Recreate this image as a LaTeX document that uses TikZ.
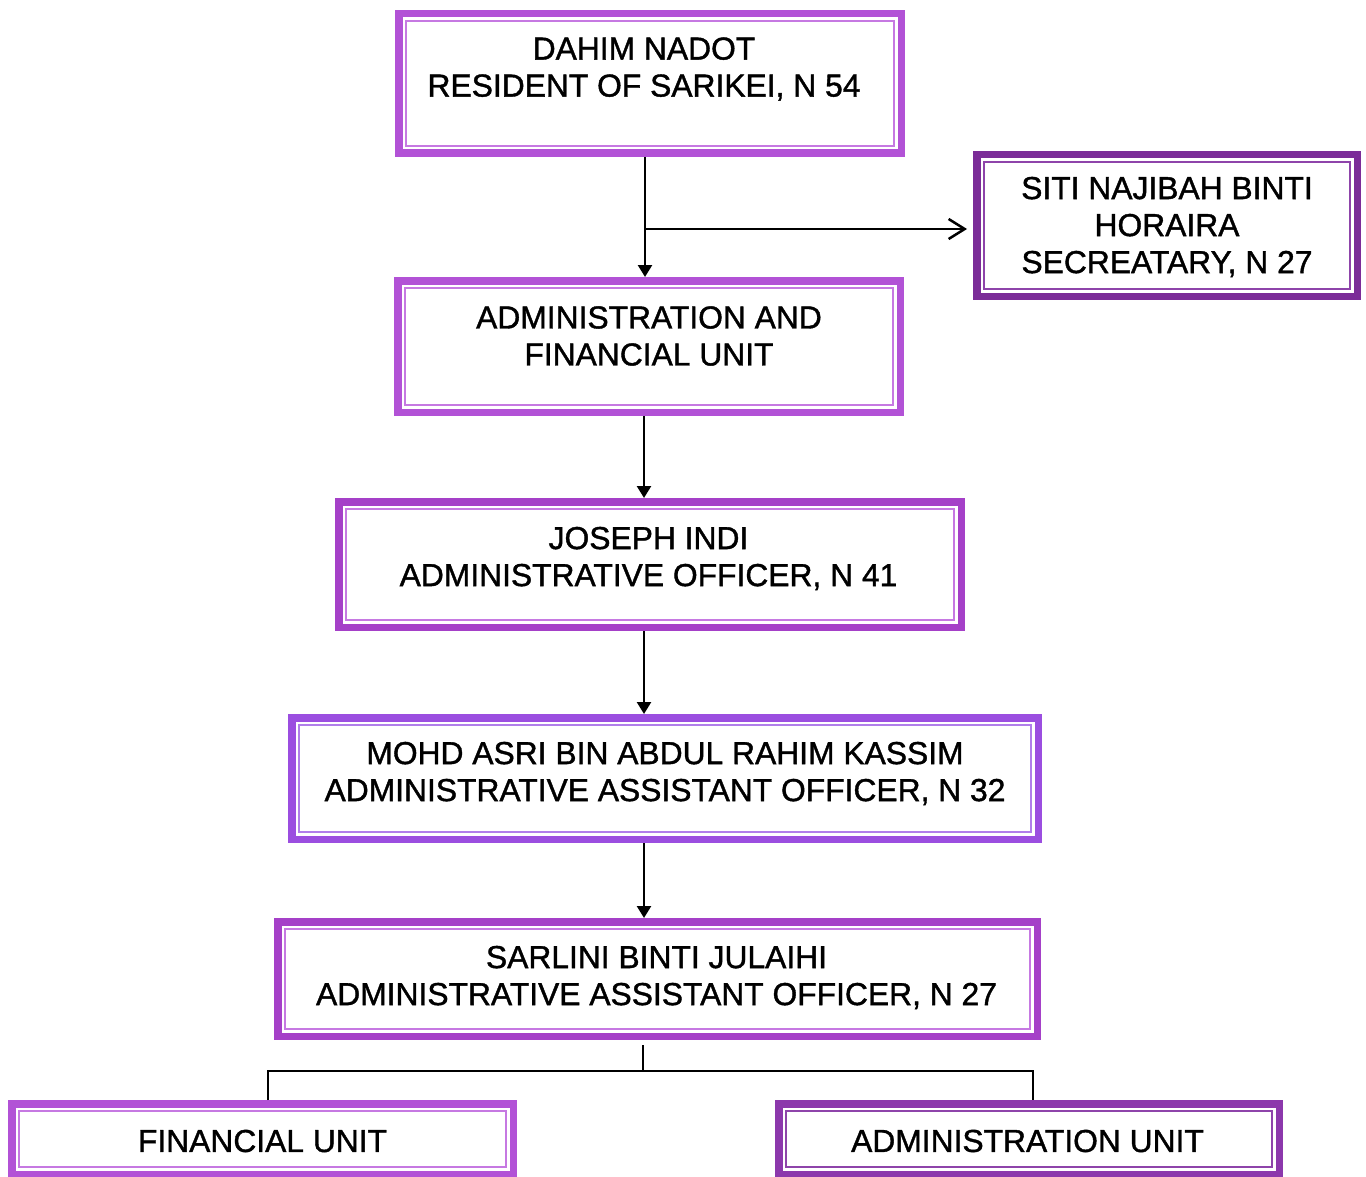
\documentclass[tikz,border=0pt]{standalone}
\usepackage{fontspec}
\setmainfont{Liberation Sans}
\newfontfamily\chartfont[FakeBold=1.2]{Liberation Sans}
\usetikzlibrary{arrows.meta}

\definecolor{orchidA}{HTML}{B252D6}
\definecolor{orchidAin}{HTML}{C679E2}
\definecolor{orchidB}{HTML}{A540C8}
\definecolor{violetC}{HTML}{9B4EE0}
\definecolor{violetCin}{HTML}{B07EEA}
\definecolor{plumD}{HTML}{7B2C98}
\definecolor{plumDin}{HTML}{8E44AA}
\definecolor{plumE}{HTML}{8C38AC}

\tikzset{
  unitbox/.style={draw=#1, line width=3.75pt, rectangle, inner sep=0pt, fill=white},
  lab/.style={align=center, font=\chartfont\fontsize{15.9}{18.5}\selectfont, inner sep=0pt},
  conn/.style={line width=1.25pt, black},
  downarrow/.style={conn, -{Triangle[length=6pt,width=7pt]}},
  openarrow/.style={conn, -{Straight Barb[length=8pt,width=10pt,line width=1.25pt]}, shorten >=3pt},
}

\begin{document}
\begin{tikzpicture}[x=0.5pt, y=-0.5pt]
  \useasboundingbox (0,0) rectangle (1366,1177);

  % boxes of the chart
  \node[unitbox=orchidA, minimum width=251.25pt, minimum height=69.75pt,
        label={[lab, yshift=7.25pt, xshift=-3pt]center:{DAHIM NADOT\\RESIDENT OF SARIKEI, N 54}}]
        (b1) at (650,83.5) {};
  \node[unitbox=plumD, minimum width=190.25pt, minimum height=70.75pt,
        label={[lab, yshift=-0.75pt]center:{SITI NAJIBAH BINTI\\HORAIRA\\SECREATARY, N 27}}]
        (sec) at (1167,225.5) {};
  \node[unitbox=orchidA, minimum width=251.25pt, minimum height=65.75pt,
        label={[lab, yshift=5.25pt]center:{ADMINISTRATION AND\\FINANCIAL UNIT}}]
        (b2) at (649,346.5) {};
  \node[unitbox=orchidB, minimum width=311.25pt, minimum height=62.75pt,
        label={[lab, yshift=3pt, xshift=-0.75pt]center:{JOSEPH INDI\\ADMINISTRATIVE OFFICER, N 41}}]
        (b3) at (650,564.5) {};
  \node[unitbox=violetC, minimum width=373.25pt, minimum height=60.75pt,
        label={[lab, yshift=2.5pt]center:{MOHD ASRI BIN ABDUL RAHIM KASSIM\\ADMINISTRATIVE ASSISTANT OFFICER, N 32}}]
        (b4) at (665,778.5) {};
  \node[unitbox=orchidB, minimum width=379.75pt, minimum height=57.25pt,
        label={[lab, yshift=0.75pt, xshift=-0.5pt]center:{SARLINI BINTI JULAIHI\\ADMINISTRATIVE ASSISTANT OFFICER, N 27}}]
        (b5) at (657.5,979) {};
  \node[unitbox=orchidA, minimum width=250.75pt, minimum height=35.25pt,
        label={[lab, yshift=-1pt]center:{FINANCIAL UNIT}}]
        (b6) at (262.5,1139) {};
  \node[unitbox=plumE, minimum width=250.25pt, minimum height=35.25pt,
        label={[lab, yshift=-1pt, xshift=-0.75pt]center:{ADMINISTRATION UNIT}}]
        (b7) at (1029,1139) {};

  % thin inner frame of every box
  \foreach \n/\c in {b1/orchidAin, sec/plumDin, b2/orchidAin, b3/orchidAin,
                     b4/violetCin, b5/orchidAin, b6/orchidAin, b7/plumDin}
    \draw[\c, line width=1pt]
      ([shift={(5.5pt,-5.5pt)}]\n.north west) rectangle ([shift={(-5.5pt,5.5pt)}]\n.south east);

  % connectors
  \coordinate (spine) at (644,0);
  \coordinate (branch) at (645,229);
  \coordinate (fork) at (643,1071);

  \draw[downarrow] (b1.south -| branch) -- (b2.north -| branch);
  \draw[openarrow] (branch) -- (branch -| sec.west);
  \draw[downarrow] (b2.south -| spine) -- (b3.north -| spine);
  \draw[downarrow] (b3.south -| spine) -- (b4.north -| spine);
  \draw[downarrow] (b4.south -| spine) -- (b5.north -| spine);
  \draw[conn] ([yshift=-2.5pt]b5.south -| fork) -- (fork);
  \draw[conn] ([xshift=2.75pt]b6.north) |- (fork) -| ([xshift=2pt]b7.north);
\end{tikzpicture}
\end{document}
